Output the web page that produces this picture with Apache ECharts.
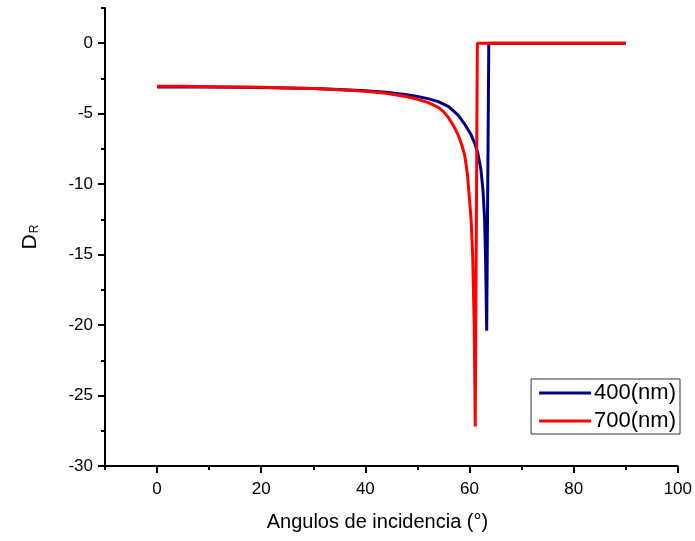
<!DOCTYPE html>
<html>
<head>
<meta charset="utf-8">
<script src="https://cdn.jsdelivr.net/npm/echarts@6/dist/echarts.min.js"></script>
<style>html,body{margin:0;padding:0;background:#fff}#c{width:695px;height:541px}</style>
</head>
<body>
<div id="c"></div>
<script>
var seriesNames = ['400(nm)', '700(nm)'];
var x400 = [0,5,10,15,20,25,30,35,40,44,48,50,52,54,56,57.8,59,60.3,61,61.6,62.2,62.6,62.9,63.1,63.3,63.7,70,80,90];
var y400 = [-3.1,-3.1,-3.11,-3.13,-3.15,-3.18,-3.22,-3.28,-3.37,-3.48,-3.65,-3.78,-3.93,-4.14,-4.5,-5.1,-5.7,-6.5,-7.1,-7.8,-9.0,-10.5,-12.5,-15.5,-20.4,0,0,0,0];
var x700 = [0,5,10,15,20,25,30,35,40,44,48,50,52,54,55,56,57,57.8,58.5,59.1,59.6,60,60.3,60.6,60.9,61.1,61.5,70,80,90];
var y700 = [-3.05,-3.06,-3.08,-3.1,-3.13,-3.17,-3.22,-3.3,-3.41,-3.55,-3.8,-3.98,-4.2,-4.55,-4.85,-5.3,-5.9,-6.5,-7.2,-8.0,-9.3,-11.1,-12.5,-15,-20,-27.2,0,0,0,0];
var xMajor = [0,20,40,60,80,100];
var xMinor = [-10,10,30,50,70,90];
var yMajor = [-30,-25,-20,-15,-10,-5,0];
var yMinor = [-27.5,-22.5,-17.5,-12.5,-7.5,-2.5,2.5];

function pairs(xs, ys){ return xs.map(function(x,i){ return [x, ys[i]]; }); }
var FONT = "'Liberation Sans', Arial, sans-serif";
var chart = echarts.init(document.getElementById('c'), null, {renderer:'canvas'});
var axisLineStyle = {color:'#000', width:2};
chart.setOption({
  animation:false,
  backgroundColor:'#fff',
  textStyle:{fontFamily:FONT},
  grid:{left:105, right:15, top:8, bottom:75, containLabel:false},
  legend:{
    data:seriesNames, orient:'vertical', right:15, top:379,
    icon:'rect', itemWidth:52, itemHeight:3, itemGap:6,
    borderColor:'#333', borderWidth:1, padding:[3,4,2,8],
    textStyle:{fontFamily:FONT, fontSize:22, color:'#000', padding:[0,0,0,-2]}
  },
  xAxis:[{
    type:'value', min:-10, max:100, position:'bottom',
    axisLine:{show:true, onZero:false, lineStyle:axisLineStyle},
    axisTick:{show:true, inside:false, length:7, lineStyle:{color:'#000', width:2}, customValues:xMajor},
    axisLabel:{show:true, customValues:xMajor, fontFamily:FONT, fontSize:17, color:'#000', margin:15},
    splitLine:{show:false},
    name:'Angulos de incidencia (°)', nameLocation:'middle', nameGap:46,
    nameTextStyle:{fontFamily:FONT, fontSize:20, color:'#000', padding:[0,28,0,0]}
  },{
    type:'value', min:-10, max:100, position:'bottom', offset:0,
    axisLine:{show:false, onZero:false},
    axisTick:{show:true, inside:false, length:4, lineStyle:{color:'#000', width:2}, customValues:xMinor},
    axisLabel:{show:false}, splitLine:{show:false}
  }],
  yAxis:[{
    type:'value', min:-30, max:2.5, position:'left',
    axisLine:{show:true, onZero:false, lineStyle:axisLineStyle},
    axisTick:{show:true, inside:false, length:7, lineStyle:{color:'#000', width:2}, customValues:yMajor},
    axisLabel:{show:true, customValues:yMajor, fontFamily:FONT, fontSize:17, color:'#000', margin:12},
    splitLine:{show:false},
    name:'{d|D}{r|R}', nameLocation:'middle', nameGap:64, nameRotate:90,
    nameTextStyle:{fontFamily:FONT, color:'#000', rich:{
      d:{fontFamily:FONT, fontSize:21, color:'#000', verticalAlign:'top', lineHeight:21},
      r:{fontFamily:FONT, fontSize:12, color:'#000', verticalAlign:'bottom', lineHeight:12, padding:[14,0,0,1]}
    }}
  },{
    type:'value', min:-30, max:2.5, position:'left', offset:0,
    axisLine:{show:false, onZero:false},
    axisTick:{show:true, inside:false, length:4, lineStyle:{color:'#000', width:2}, customValues:yMinor},
    axisLabel:{show:false}, splitLine:{show:false}
  }],
  series:[{
    name:seriesNames[0], type:'line', xAxisIndex:0, yAxisIndex:0,
    data:pairs(x400, y400), showSymbol:false, symbol:'none', smooth:false,
    lineStyle:{color:'#000080', width:3}, itemStyle:{color:'#000080'}
  },{
    name:seriesNames[1], type:'line', xAxisIndex:0, yAxisIndex:0,
    data:pairs(x700, y700), showSymbol:false, symbol:'none', smooth:false,
    lineStyle:{color:'#ff0000', width:3}, itemStyle:{color:'#ff0000'}
  }]
});
</script>
</body>
</html>
